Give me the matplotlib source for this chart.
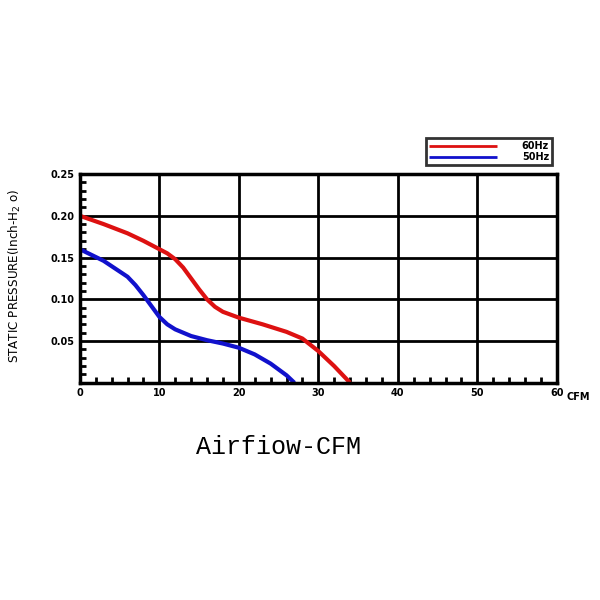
import matplotlib.pyplot as plt
from matplotlib.ticker import MultipleLocator

# 讀圖估計的數據
cfm_60 = [0, 3, 6, 8, 10, 11, 12, 13, 14, 15, 16, 17, 18, 20, 23, 26, 28, 30, 32, 34]
sp_60 = [0.2, 0.19, 0.179, 0.17, 0.16, 0.155, 0.148, 0.138, 0.125, 0.112, 0.1, 0.091, 0.085, 0.078, 0.07, 0.061, 0.053, 0.038, 0.02, 0.0]
cfm_50 = [0, 3, 6, 7, 8, 9, 10, 11, 12, 14, 16, 18, 20, 22, 24, 26, 27]
sp_50 = [0.16, 0.146, 0.127, 0.117, 0.105, 0.092, 0.079, 0.07, 0.064, 0.056, 0.051, 0.047, 0.042, 0.034, 0.023, 0.009, 0.0]
x_ticks = [0, 10, 20, 30, 40, 50, 60]
y_ticks = [0.05, 0.10, 0.15, 0.20, 0.25]

fig = plt.figure(figsize=(6, 6), dpi=100)
ax = fig.add_axes([0.133, 0.362, 0.795, 0.348])

ax.plot(cfm_60, sp_60, color='#dd1111', lw=3, label='60Hz', solid_capstyle='butt')
ax.plot(cfm_50, sp_50, color='#1111cc', lw=3, label='50Hz', solid_capstyle='butt')

ax.set_xlim(0, 60)
ax.set_ylim(0, 0.25)
ax.set_xticks(x_ticks)
ax.set_yticks(y_ticks)
ax.set_xticklabels([str(t) for t in x_ticks], fontsize=7, fontweight='bold')
ax.set_yticklabels([f'{t:.2f}' for t in y_ticks], fontsize=7, fontweight='bold')
ax.xaxis.set_minor_locator(MultipleLocator(2))
ax.yaxis.set_minor_locator(MultipleLocator(0.01))
ax.tick_params(which='both', direction='in', width=2, color='black')
ax.tick_params(which='major', length=0, pad=4)
ax.tick_params(which='minor', length=4)
ax.grid(True, which='major', color='black', lw=2)
for s in ax.spines.values():
    s.set_linewidth(2.5)

ax.text(61.2, -0.0165, 'CFM', fontsize=7, fontweight='bold', ha='left', va='center')
fig.text(0.025, 0.54, 'STATIC PRESSURE(Inch-H$_2$ o)', rotation=90, ha='center', va='center',
         fontsize=9.5, fontstretch='condensed')
fig.text(0.465, 0.255, 'Airfiow-CFM', fontsize=18, family='Liberation Mono', ha='center', va='center')

leg = ax.legend(loc='lower right', bbox_to_anchor=(1.0, 1.02), frameon=True,
                fancybox=False, edgecolor='black', handlelength=7, handletextpad=2.5,
                borderpad=0.3, labelspacing=0.1, prop={'weight': 'bold', 'size': 7})
leg.get_frame().set_linewidth(2)
for h in leg.get_lines():
    h.set_linewidth(2)

fig.savefig('out.png')
